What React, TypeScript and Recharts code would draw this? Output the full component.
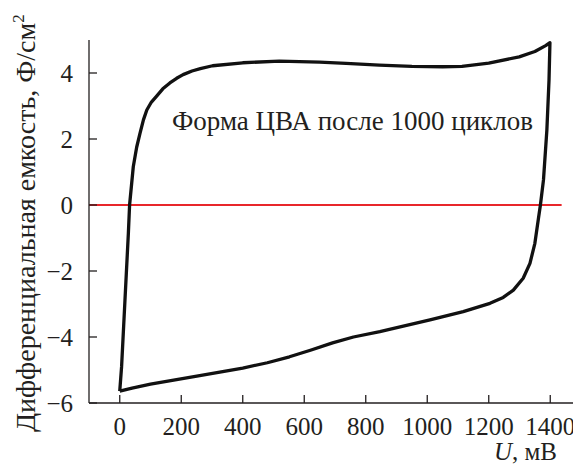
import React from "react";
import { LineChart, Line, XAxis, YAxis, ReferenceLine, ReferenceDot } from "recharts";

// Potential U, mV (closed CV loop, in drawing order)
const U = [
  0, 6, 17, 28, 32, 44, 55, 66, 77, 88, 103, 120, 140, 163, 185, 206, 235, 262, 302, 400, 519, 650, 736, 844, 950, 1050, 1113, 1200, 1299, 1350, 1385, 1399,
  1396, 1389, 1378, 1368, 1361, 1350, 1334, 1312, 1280, 1247, 1204, 1117, 1009, 877, 846, 760, 692, 620, 552, 480, 400, 330, 260, 180, 100, 40, 0,
];
// Differential capacitance, F/cm2
const C = [
  -5.64, -4.9, -2.88, -0.86, 0, 1.16, 1.75, 2.18, 2.58, 2.88, 3.12, 3.3, 3.52, 3.7, 3.84, 3.95, 4.06, 4.13, 4.22, 4.31, 4.36, 4.33, 4.29, 4.24, 4.2, 4.19, 4.2, 4.3, 4.49, 4.65, 4.83, 4.92,
  3.79, 2.27, 0.76, 0, -0.45, -1.16, -1.77, -2.22, -2.58, -2.8, -2.98, -3.23, -3.48, -3.77, -3.84, -4.0, -4.18, -4.4, -4.6, -4.78, -4.94, -5.06, -5.17, -5.3, -5.43, -5.55, -5.64,
];
const xTicks = [0, 200, 400, 600, 800, 1000, 1200, 1400];
const yTicks = [-6, -4, -2, 0, 2, 4];
const zeroLineEnd = 1437;
const annotation = "Форма ЦВА после 1000 циклов";
const yLabel = "Дифференциальная емкость, Ф/см";
const xLabelVar = "U";
const xLabelUnit = ", мВ";

const data = U.map((u, i) => ({ u, c: C[i] }));

const FONT = '"Liberation Serif"';
const AX = "#231f20";
const txt = (size: number) => ({ fontFamily: FONT, fontSize: size, fill: AX });

const fmt = (v: number) => (v < 0 ? "\u2212" + Math.abs(v) : String(v));

const XTick = (props: any) => {
  const { x, y, payload } = props;
  return (
    <g>
      <line x1={x} x2={x} y1={y} y2={y - 8} stroke={AX} strokeWidth={1.3} />
      <text x={x} y={y + 32} textAnchor="middle" style={txt(25)}>
        {payload.value}
      </text>
    </g>
  );
};

const YTick = (props: any) => {
  const { x, y, payload } = props;
  return (
    <g>
      <line x1={x} x2={x + 8} y1={y} y2={y} stroke={AX} strokeWidth={1.3} />
      <text x={x - 16} y={y + 9} textAnchor="end" style={txt(25)}>
        {fmt(payload.value)}
      </text>
    </g>
  );
};

const XLabel = (props: any) => {
  const vb = props.viewBox;
  return (
    <text x={vb.x + vb.width - 24} y={vb.y + 57} textAnchor="end" style={txt(25)}>
      <tspan style={{ fontStyle: "italic" }}>{xLabelVar}</tspan>
      <tspan>{xLabelUnit}</tspan>
    </text>
  );
};

const YLabel = (props: any) => {
  const vb = props.viewBox;
  const cx = 27;
  const cy = vb.y + vb.height + 29;
  return (
    <text x={cx} y={cy} transform={`rotate(-90 ${cx} ${cy})`} textAnchor="start" style={txt(28)}>
      {yLabel}
      <tspan dy={-11} style={{ fontSize: 17 }}>2</tspan>
    </text>
  );
};

const Annot = (props: any) => {
  const vb = props.viewBox;
  return (
    <text x={vb.x} y={vb.y} textAnchor="start" style={txt(27)}>
      {annotation}
    </text>
  );
};

export default function App() {
  return (
    <LineChart width={573} height={456} data={data} margin={{ top: 32, right: 0, bottom: 11, left: 0 }}>
      <XAxis
        dataKey="u"
        type="number"
        domain={[-100, 1500]}
        ticks={xTicks}
        interval={0}
        allowDataOverflow
        tickSize={0}
        tickMargin={0}
        tickLine={false}
        tick={<XTick />}
        axisLine={{ stroke: AX, strokeWidth: 1.3 }}
        height={50}
        label={<XLabel />}
      />
      <YAxis
        type="number"
        domain={[-6, 5]}
        ticks={yTicks}
        interval={0}
        allowDataOverflow
        tickSize={0}
        tickMargin={0}
        tickLine={false}
        tick={<YTick />}
        axisLine={{ stroke: AX, strokeWidth: 1.3 }}
        width={81}
        label={<YLabel />}
      />
      <ReferenceLine
        segment={[{ x: -100, y: 0 }, { x: zeroLineEnd, y: 0 }]}
        stroke="#e8262b"
        strokeWidth={2}
        ifOverflow="visible"
      />
      <Line
        dataKey="c"
        type="linear"
        stroke="#111"
        strokeWidth={3.3}
        dot={false}
        isAnimationActive={false}
        strokeLinejoin="round"
      />
      <ReferenceDot x={170} y={2.27} r={0} stroke="none" fill="none" label={<Annot />} />
    </LineChart>
  );
}
